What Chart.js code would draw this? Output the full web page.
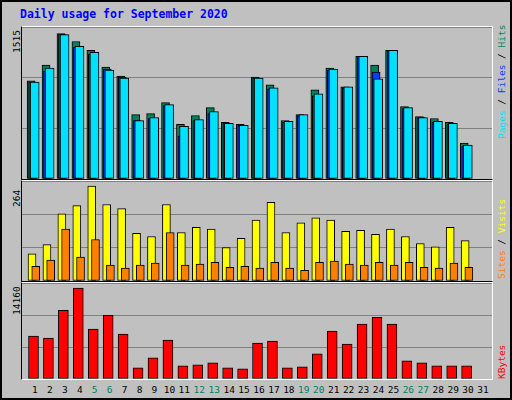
<!DOCTYPE html>
<html>
<head>
<meta charset="utf-8">
<script src="https://cdn.jsdelivr.net/npm/chart.js@4"></script>
<style>
  body { margin: 0; background: #fff; }
  #frame { position: absolute; left: 0; top: 0; width: 508px; height: 396px; background: #C0C0C0;
           border: 2px solid #000; font-family: "DejaVu Sans Mono", monospace; }
  .panel { position: absolute; left: 19px; width: 470px; border-left: 1px solid #000; border-right: 1px solid #fff; }
  .lbl { position: absolute; font-size: 9.5px; white-space: nowrap; line-height: 11px; }
  .rot { transform-origin: 0 0; transform: rotate(-90deg); }
</style>
</head>
<body>
<div id="frame">
  <div class="lbl" style="left:18px;top:7px;color:#0000FF;font-weight:bold;font-size:11.5px;">Daily usage for September 2020</div>
  <div class="panel" style="top:24px;height:152px;border-top:1px solid #fff;border-bottom:1px solid #000;"><canvas id="c1"></canvas></div>
  <div class="panel" style="top:178px;height:100px;border-top:1px solid #fff;border-bottom:1px solid #000;"><canvas id="c2"></canvas></div>
  <div class="panel" style="top:280px;height:96px;border-top:1px solid #fff;border-bottom:1px solid #fff;"><canvas id="c3"></canvas></div>
  <div class="lbl rot" style="left:9px;top:51px;">1515</div>
  <div class="lbl rot" style="left:9px;top:205px;">264</div>
  <div class="lbl rot" style="left:9px;top:313px;">14160</div>
  <div class="lbl rot" style="left:494px;top:137px;"><span style="color:#00E0FF">Pages</span> / <span style="color:#0040FF">Files</span> / <span style="color:#00805C">Hits</span></div>
  <div class="lbl rot" style="left:494px;top:277px;"><span style="color:#FF8000">Sites</span> / <span style="color:#FFFF00">Visits</span></div>
  <div class="lbl rot" style="left:494px;top:377px;"><span style="color:#FF0000">KBytes</span></div>
  <div id="days"></div>
</div>
<script>
const days = Array.from({length: 31}, (_, i) => i + 1);
const weekend = [5, 6, 12, 13, 19, 20, 26, 27];
const hits = [997,1157,1478,1398,1308,1137,1047,655,665,776,555,645,726,575,555,1037,956,595,655,906,1127,936,1247,1157,1308,736,635,615,575,364];
const files = [986,1097,1468,1338,1267,1117,1037,595,615,746,435,595,665,565,545,1027,916,575,645,846,1107,926,1247,1087,1308,716,625,575,555,334];
const pages = [986,1127,1468,1348,1287,1107,1027,595,625,756,535,605,686,565,545,1027,926,585,655,866,1117,936,1247,1017,1308,726,625,585,565,344];
const visits = [74,99,183,205,258,208,197,130,121,208,132,146,141,91,116,166,214,132,158,172,166,135,138,127,141,121,102,93,146,110];
const sites = [40,57,141,65,113,43,35,43,49,132,43,46,51,37,40,35,51,35,29,51,54,46,43,51,43,51,37,35,49,37];
const kbytes = [6487,6188,10379,13723,7535,9631,6786,1697,3194,5888,1996,2146,2445,1697,1547,5439,5739,1697,1846,3792,7236,5289,8283,9331,8283,2745,2445,1996,1996,1996];

const pts = (arr, off) => arr.map((v, i) => ({x: days[i] + off, y: v}));
const ds = (arr, off, color, w) => ({data: pts(arr, off), backgroundColor: color, borderColor: '#000',
  borderWidth: 1, barThickness: w, grouped: false, borderSkipped: false});

function panel(id, datasets, max) {
  return new Chart(document.getElementById(id), {
    type: 'bar',
    data: {datasets},
    options: {
      responsive: true, maintainAspectRatio: false, animation: false,
      layout: {padding: 0},
      plugins: {legend: {display: false}, tooltip: {enabled: false}},
      scales: {
        x: {type: 'linear', min: 0.13, max: 31.6, offset: false, display: false},
        y: {min: 0, max: max, afterFit: s => { s.width = 0; },
            ticks: {display: false, stepSize: max / 3},
            grid: {color: '#808080', lineWidth: 1, drawTicks: false}, border: {display: false}}
      }
    }
  });
}

// first dataset is drawn on top, so front bars come first
panel('c1', [ds(pages, -0.02, '#00E0FF', 9), ds(files, -0.16, '#0040FF', 8), ds(hits, -0.26, '#00805C', 8)], 1545);
panel('c2', [ds(sites, 0.05, '#FF8000', 8), ds(visits, -0.2, '#FFFF00', 8)], 272);
const c3 = panel('c3', [ds(kbytes, -0.1, '#FF0000', 10)], 14500);

// day labels under the last panel
const xs = c3.scales.x;
document.getElementById('days').innerHTML = days.map(d =>
  `<div class="lbl" style="left:${20 + xs.getPixelForValue(d) - 9}px;top:382px;width:18px;text-align:center;color:${weekend.includes(d) ? '#00805C' : '#000'}">${d}</div>`
).join('');
</script>
</body>
</html>
